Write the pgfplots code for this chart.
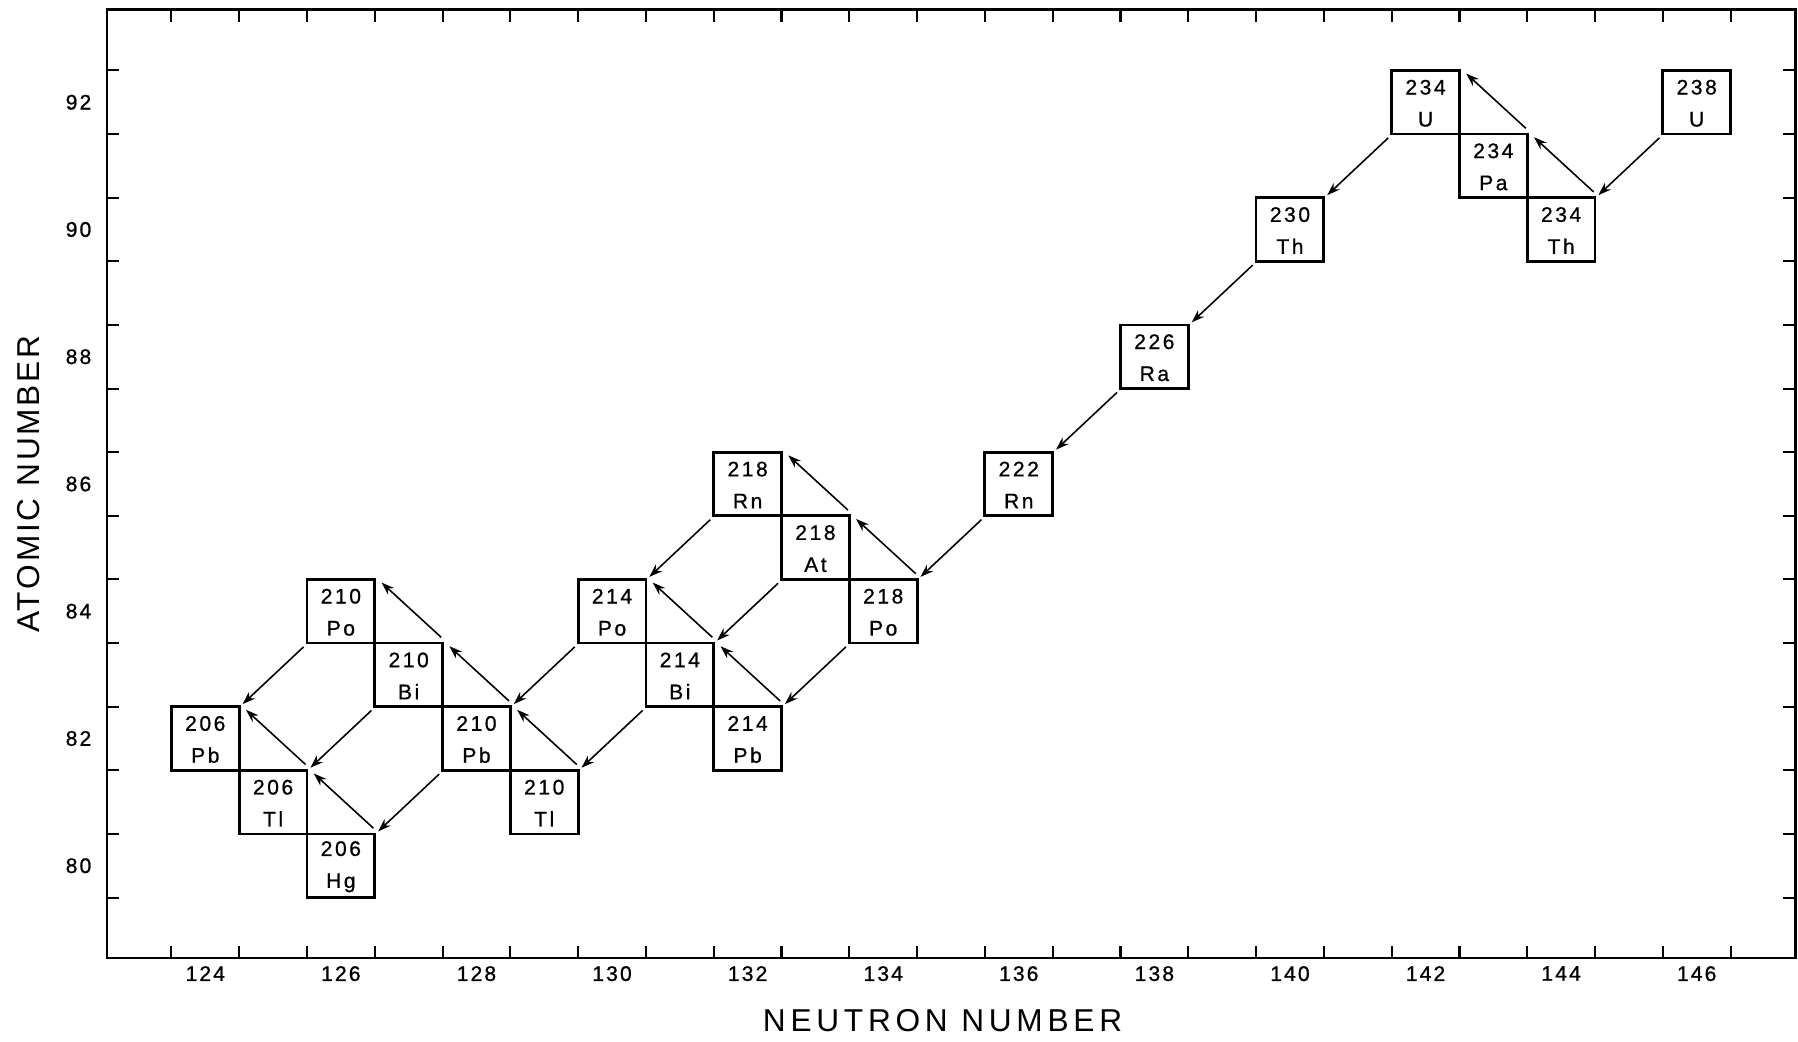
\documentclass[border=0pt]{standalone}
\usepackage{fontspec}
\setmainfont{Liberation Sans}
\usepackage{pgfplots}
\usepackage{pgfplotstable}
\pgfplotsset{compat=1.18}
\usetikzlibrary{arrows.meta,calc}

% one cell of the chart of nuclides: one unit of N wide, one unit of Z tall
\pgfdeclareplotmark{nuclide}{%
  \pgfpathrectangle{\pgfpoint{-3.39mm}{-3.181mm}}{\pgfpoint{6.78mm}{6.362mm}}%
  \pgfusepathqstroke}

% members of the uranium-238 series
\pgfplotstableread{
N   Z  A   sym
146 92 238 U
144 90 234 Th
143 91 234 Pa
142 92 234 U
140 90 230 Th
138 88 226 Ra
136 86 222 Rn
134 84 218 Po
133 85 218 At
132 86 218 Rn
132 82 214 Pb
131 83 214 Bi
130 84 214 Po
129 81 210 Tl
128 82 210 Pb
127 83 210 Bi
126 84 210 Po
126 80 206 Hg
125 81 206 Tl
124 82 206 Pb
}\nuclides

% alpha decays: (N,Z) -> (N-2,Z-2), from the lower left corner of the parent
\pgfplotstableread{
x      y     u     v
145.45 91.44 -0.90 -0.90
141.45 91.44 -0.90 -0.90
139.45 89.44 -0.90 -0.90
137.45 87.44 -0.90 -0.90
135.45 85.44 -0.90 -0.90
133.45 83.44 -0.90 -0.90
132.45 84.44 -0.90 -0.90
131.45 85.44 -0.90 -0.90
130.45 82.44 -0.90 -0.90
129.45 83.44 -0.90 -0.90
127.45 81.44 -0.90 -0.90
126.45 82.44 -0.90 -0.90
125.45 83.44 -0.90 -0.90
}\alphadecays

% beta decays: (N,Z) -> (N-1,Z+1), from the upper right corner of the parent
\pgfplotstableread{
x      y     u     v
144.48 90.59 -0.88 0.86
143.48 91.59 -0.88 0.86
134.48 84.59 -0.88 0.86
133.48 85.59 -0.88 0.86
132.48 82.59 -0.88 0.86
131.48 83.59 -0.88 0.86
129.48 81.59 -0.88 0.86
128.48 82.59 -0.88 0.86
127.48 83.59 -0.88 0.86
126.48 80.59 -0.88 0.86
125.48 81.59 -0.88 0.86
}\betadecays

\begin{document}
\begin{tikzpicture}
\begin{axis}[
  name=ax,
  at={(0,0)}, anchor=south west,
  scale only axis,
  width=168.8mm, height=94.8mm,
  xmin=122.55, xmax=147.45,
  ymin=78.55, ymax=93.45,
  axis line style={line width=0.85pt},
  tick pos=both,
  tick align=inside,
  xtick={124,126,...,146},
  ytick={80,82,...,92},
  minor xtick={123.5,124.5,...,146.5},
  minor ytick={79.5,80.5,...,92.5},
  major tick length=0pt,
  minor tick length=1.2mm,
  minor tick style={line width=0.6pt, black},
  /pgf/number format/assume math mode=true,
  xticklabel style={font=\fontsize{6}{7}\selectfont\addfontfeatures{LetterSpace=10,FakeBold=1},
    anchor=north, inner sep=0pt, yshift=-0.75mm},
  yticklabel style={font=\fontsize{6}{7}\selectfont\addfontfeatures{LetterSpace=10,FakeBold=1},
    anchor=east, inner sep=0pt, xshift=-1.5mm},
  xlabel={NEUTRON NUMBER},
  ylabel={ATOMIC NUMBER},
  xlabel style={font=\fontsize{9}{10}\selectfont\addfontfeatures{LetterSpace=15},
    at={(axis description cs:0.495,-0.0665)}, anchor=center},
  ylabel style={font=\fontsize{9}{10}\selectfont\addfontfeatures{LetterSpace=9},
    at={(axis description cs:-0.0462,0.5)}, anchor=center},
]
  % decay arrows
  \addplot[black, line width=0.45pt,
    quiver={u=\thisrow{u}, v=\thisrow{v}},
    -{Stealth[length=1.3mm, width=0.9mm]}] table[x=x, y=y] {\alphadecays};
  \addplot[black, line width=0.45pt,
    quiver={u=\thisrow{u}, v=\thisrow{v}},
    -{Stealth[length=1.3mm, width=0.9mm]}] table[x=x, y=y] {\betadecays};

  % nuclide cells with mass number and element symbol
  \addplot[black, only marks, mark=nuclide,
    mark options={line width=0.8pt},
    point meta=explicit symbolic,
    visualization depends on={\thisrow{A} \as \massnum},
    nodes near coords={\pgfmathprintnumber[int detect]{\massnum}\\\pgfplotspointmeta},
    every node near coord/.append style={anchor=center, align=center,
      inner sep=0pt, yshift=-0.1mm,
      font=\fontsize{6}{9.1}\selectfont\addfontfeatures{LetterSpace=12,FakeBold=0.8}},
  ] table[x=N, y=Z, meta=sym] {\nuclides};
\end{axis}
\pgfresetboundingbox
\path ($(ax.south west)+(-10.7mm,-8.4mm)$) rectangle ($(ax.north east)+(0.3mm,1.0mm)$);
\end{tikzpicture}
\end{document}
